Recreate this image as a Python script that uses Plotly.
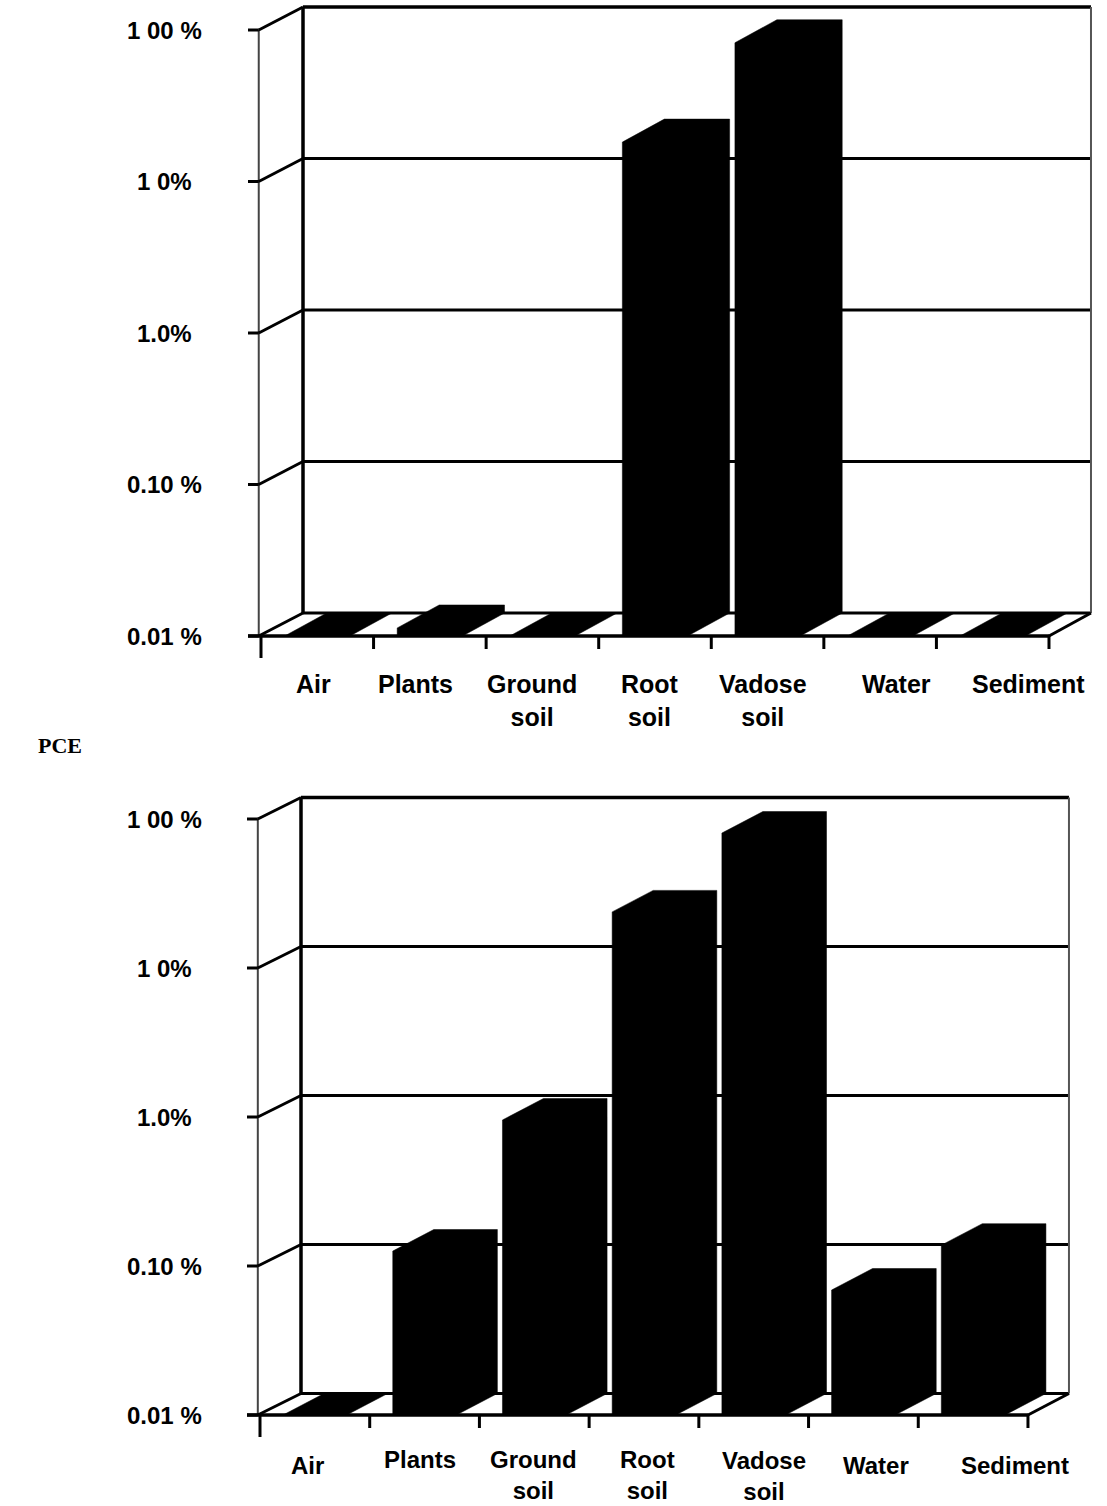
import plotly.graph_objects as go
import math

# ---------------- data ----------------
categories = ["Air", "Plants", "Ground<br>soil", "Root<br>soil", "Vadose<br>soil", "Water", "Sediment"]
top_values = [0.01, 0.0113, 0.01, 18.2, 82.4, 0.01, 0.01]          # percent
bottom_values = [0.01, 0.126, 0.955, 23.8, 80.5, 0.069, 0.138]      # percent
tick_values = [0.01, 0.1, 1, 10, 100]
tick_labels = ["0.01 %", "0.10 %", "1.0%", "1 0%", "1 00 %"]
side_label = "PCE"

# ---------------- geometry / style ----------------
W, H = 1107, 1506
panels = [
    dict(xa="x", ya="y", x0=261, ux=112.57, ytop=30, ud=151.5, dpx=42, dpy=23,
         rows=(0, 760), values=top_values, lab_top=-32, lab_size=25,
         lab_dx=[-4, -14, -10, -5, -5, 16, 36], lab_dy=[0, 0, 0, 0, 0, 0, 0]),
    dict(xa="x2", ya="y2", x0=260, ux=109.71, ytop=819, ud=149, dpx=41, dpy=21.5,
         rows=(760, 1506), values=bottom_values, lab_top=-29, lab_size=24,
         lab_dx=[-7, -5, -1, 4, 10, 13, 42], lab_dy=[-6, 0, 0, 0, -1, -6, -6]),
]
BAR_W = 0.58
LABEL_FAMILY = "Liberation Sans, Arial, sans-serif"
TICK_FONT = dict(family="Liberation Sans, Arial, sans-serif", size=24, color="black")

fig = go.Figure()
annotations = []
layout_axes = {}

base = min(tick_values)
top = max(tick_values)

for k, p in enumerate(panels):
    xa, ya = p["xa"], p["ya"]
    ux, ud = p["ux"], p["ud"]
    ddx = p["dpx"] / ux
    ddy = p["dpy"] / ud
    fac = 10 ** ddy
    n = len(categories)

    def line(xs, ys, color="black", width=3):
        fig.add_trace(go.Scatter(x=xs, y=ys, mode="lines", xaxis=xa, yaxis=ya,
                                 line=dict(color=color, width=width),
                                 hoverinfo="skip", showlegend=False))

    def poly(xs, ys, color="black", lc="black", lw=0.5):
        fig.add_trace(go.Scatter(x=xs + [xs[0]], y=ys + [ys[0]], mode="lines", fill="toself",
                                 fillcolor=color, xaxis=xa, yaxis=ya,
                                 line=dict(color=lc, width=lw),
                                 hoverinfo="skip", showlegend=False))

    # back wall gridlines + top border
    for tv in tick_values:
        line([ddx, n + ddx], [tv * fac, tv * fac], "black", 3.5 if tv == top else 3)
    # back wall verticals
    line([ddx, ddx], [base * fac, top * fac], "black", 3.5)
    line([n + ddx, n + ddx], [base * fac, top * fac], "#555555", 2)
    # left wall: front vertical + diagonals + ticks
    line([-0.02, -0.02], [base, top], "#444444", 2)
    for tv in tick_values:
        line([-0.02, ddx], [tv, tv * fac], "black", 3)
        line([-13 / ux, -0.02], [tv, tv], "black", 3)
    # floor
    line([-13 / ux, n], [base, base], "black", 3.5)
    line([n, n + ddx], [base, base * fac], "black", 3)

    # bars
    for i, v in enumerate(p["values"]):
        xl = i + 0.5 - BAR_W / 2
        xr = i + 0.5 + BAR_W / 2
        vv = max(v, base)
        if vv <= base * 1.0001:
            poly([xl, xl + ddx, xr + ddx, xr], [base, base * fac, base * fac, base])
        else:
            poly([xl, xl, xl + ddx, xr + ddx, xr + ddx, xr],
                 [base, vv, vv * fac, vv * fac, base * fac, base])

    # category ticks
    tl = 13 / ud
    for i in range(n + 1):
        extra = 22 / ud if i == 0 else tl
        line([i, i], [base, base / 10 ** extra], "black", 3)

    # tick labels
    for tv, tt in zip(tick_values, tick_labels):
        annotations.append(dict(x=(164 - p["x0"]) / ux, y=math.log10(tv), xref=xa, yref=ya,
                                text="<b>%s</b>" % tt, showarrow=False, font=TICK_FONT,
                                xanchor="center", yanchor="middle"))
    # category labels
    for i, c in enumerate(categories):
        annotations.append(dict(x=i + 0.5 + p["lab_dx"][i] / ux, y=math.log10(base),
                                xref=xa, yref=ya, text="<b>%s</b>" % c, showarrow=False,
                                font=dict(family=LABEL_FAMILY, size=p["lab_size"], color="black"),
                                xanchor="center", yanchor="top",
                                yshift=p["lab_top"] + p["lab_dy"][i], align="center"))

    r0, r1 = p["rows"]
    L_hi = 2 - (r0 - p["ytop"]) / ud
    L_lo = 2 - (r1 - p["ytop"]) / ud
    sfx = "" if k == 0 else "2"
    layout_axes["xaxis" + sfx] = dict(domain=[0, 1], range=[-p["x0"] / ux, (W - p["x0"]) / ux],
                                      visible=False, anchor="y" + sfx, fixedrange=True)
    layout_axes["yaxis" + sfx] = dict(domain=[1 - r1 / H, 1 - r0 / H], type="log",
                                      range=[L_lo, L_hi], visible=False, anchor="x" + sfx,
                                      fixedrange=True)

annotations.append(dict(x=36 / W, y=1 - 745 / H, xref="paper", yref="paper",
                        text="<b>%s</b>" % side_label, showarrow=False,
                        font=dict(family="Liberation Serif, Times New Roman, serif", size=22,
                                  color="black"),
                        xanchor="left", yanchor="middle"))

fig.update_layout(width=W, height=H, margin=dict(l=0, r=0, t=0, b=0),
                  paper_bgcolor="white", plot_bgcolor="white", showlegend=False,
                  annotations=annotations, **layout_axes)

fig.write_html("out.html")
